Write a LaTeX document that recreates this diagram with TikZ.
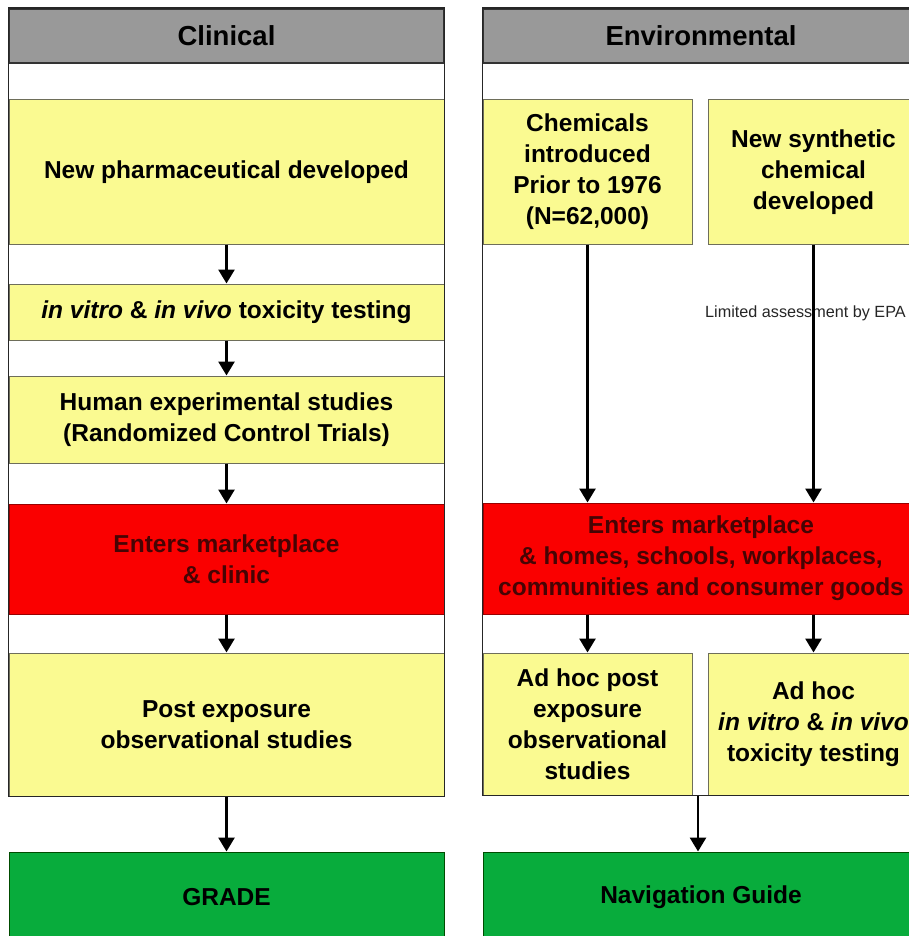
\documentclass[tikz,border=0pt]{standalone}
\usepackage{fontspec}
\setmainfont{Liberation Sans}
\usetikzlibrary{arrows.meta,calc}
\definecolor{hdgray}{RGB}{153,153,153}
\definecolor{lyellow}{RGB}{250,250,145}
\definecolor{bred}{RGB}{250,0,0}
\definecolor{bgreen}{RGB}{8,172,60}
\definecolor{dred}{RGB}{70,4,4}
\definecolor{boxline}{RGB}{110,110,90}
\tikzset{
  bodyfont/.style={font=\fontsize{24.5}{31}\selectfont\bfseries},
  box/.style={rectangle, draw=boxline, line width=1pt, inner sep=0pt, align=center, bodyfont},
  ybox/.style={box, fill=lyellow},
  rbox/.style={box, fill=bred, draw=red!60!black, text=dred},
  gbox/.style={box, fill=bgreen, draw=green!30!black, text=black},
  hbox/.style={rectangle, fill=hdgray, draw=black!80, line width=1.2pt, inner sep=0pt,
    font=\fontsize{27.5}{32}\selectfont\bfseries},
  frame/.style={draw=black!85, line width=1.8pt},
  flow/.style={line width=2.8pt, -{Triangle[width=16pt,length=14pt]}},
}
\begin{document}
\begin{tikzpicture}[x=1pt,y=-1pt]
\useasboundingbox (0,0) rectangle (909,936);
\clip (0,0) rectangle (909,936);
\fill[white] (0,0) rectangle (909,936);

% ---------- Clinical column ----------
\node[hbox, minimum width=435pt, minimum height=54pt] (h1) at (226.5,36) {Clinical};
\node[ybox, minimum width=435pt, minimum height=144pt] (c1) at (226.5,172) {New pharmaceutical developed};
\node[ybox, minimum width=435pt, minimum height=56pt] (c2) at (226.5,312) {\itshape in vitro\upshape{} \& \itshape in vivo\upshape{} toxicity testing};
\node[ybox, minimum width=435pt, minimum height=87pt] (c3) at (226.5,419.5) {Human experimental studies\\(Randomized Control Trials)};
\node[rbox, minimum width=435pt, minimum height=110pt] (c4) at (226.5,559) {Enters marketplace\\\& clinic};
\node[ybox, minimum width=435pt, minimum height=143pt] (c5) at (226.5,724.5) {Post exposure\\observational studies};
\node[gbox, minimum width=435pt, minimum height=90pt] (c6) at (226.5,897) {GRADE};
\draw[frame] (h1.north west) rectangle (c5.south east);

\draw[flow] (c1) -- (c2);
\draw[flow] (c2) -- (c3);
\draw[flow] (c3) -- (c4);
\draw[flow] (c4) -- (c5);
\draw[flow] (c5) -- (c6);

% ---------- Environmental column ----------
\node[hbox, minimum width=436pt, minimum height=54pt] (h2) at (701,36) {Environmental};
\node[ybox, minimum width=209pt, minimum height=144pt] (e1) at (587.5,172) {Chemicals\\introduced\\Prior to 1976\\(N=62,000)};
\node[ybox, minimum width=211pt, minimum height=144pt] (e2) at (813.5,172) {New synthetic\\chemical\\developed};
\node[rbox, minimum width=436pt, minimum height=111pt] (e3) at (701,558.5) {Enters marketplace\\\& homes, schools, workplaces,\\communities and consumer goods};
\node[ybox, minimum width=209pt, minimum height=142pt] (e4) at (587.5,724) {Ad hoc post\\exposure\\observational\\studies};
\node[ybox, minimum width=211pt, minimum height=142pt] (e5) at (813.5,724) {Ad hoc\\\itshape in vitro\upshape{} \& \itshape in vivo\upshape\\toxicity testing};
\node[gbox, minimum width=436pt, minimum height=90pt] (e6) at (701,897) {Navigation Guide};
\draw[frame] (h2.north west) rectangle (h2.north east |- e5.south);

\node[anchor=west, inner sep=0pt, font=\fontsize{16.2}{18}\selectfont, text=black!85] (epa) at (705,313) {Limited assessment by EPA};

\draw[flow] (e1.south) -- (e1.south |- e3.north);
\draw[flow] (e2.south) -- (e2.south |- e3.north);
\draw[flow] (e4.north |- e3.south) -- (e4.north);
\draw[flow] (e5.north |- e3.south) -- (e5.north);
\coordinate (gapb) at ($(e4.south east)!0.5!(e5.south west)$);
\draw[flow] ([xshift=-2pt]gapb) -- ([xshift=-2pt]gapb |- e6.north);
\end{tikzpicture}
\end{document}
